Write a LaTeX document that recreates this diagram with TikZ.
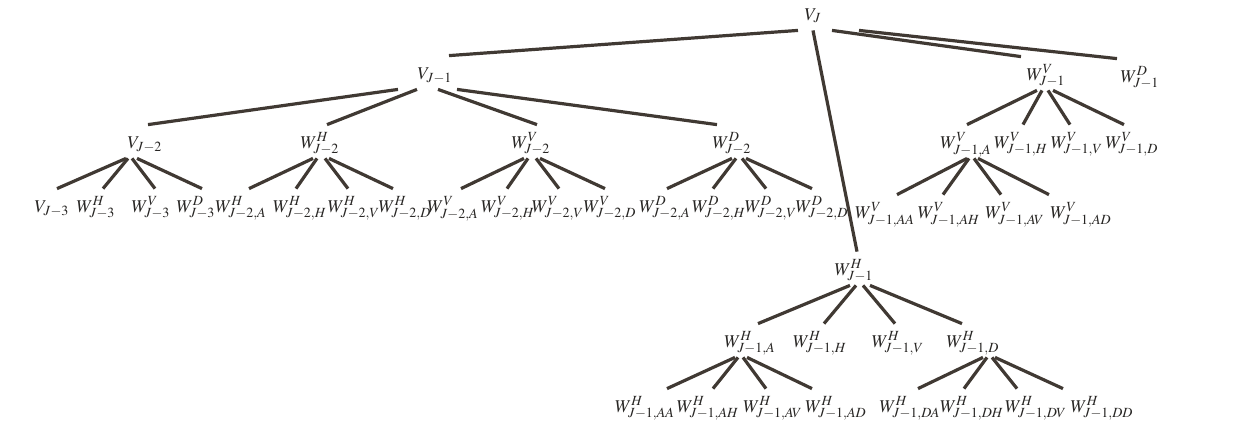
\documentclass[tikz,border=0pt]{standalone}
\usepackage{amsmath}
\usepackage{mathptmx}
\usetikzlibrary{calc}

\definecolor{branchcol}{RGB}{64,57,51}
\definecolor{labelcol}{RGB}{40,38,36}

\begin{document}
\begin{tikzpicture}[x=0.5pt,y=-0.5pt,
   lbl/.style={inner sep=0pt,text height=11.5pt,text depth=5pt,anchor=base,
      text=labelcol,font=\fontsize{9}{11}\selectfont},
   branch/.style={draw=branchcol,line width=1.6pt}]

\useasboundingbox (0,0) rectangle (1239,447);

\node[lbl] (VJ)    at ( 813, 20) {$V_J$};

\node[lbl] (VJm1)  at ( 435, 79) {$V_{J-1}$};
\node[lbl] (WVJm1) at (1046, 80) {$W^V_{J-1}$};
\node[lbl] (WDJm1) at (1140, 82) {$W^D_{J-1}$};
\node[lbl] (WHJm1) at ( 854,275) {$W^H_{J-1}$};

\node[lbl] (VJm2)  at ( 145,148) {$V_{J-2}$};
\node[lbl] (WHJm2) at ( 320,148) {$W^H_{J-2}$};
\node[lbl] (WVJm2) at ( 531,148) {$W^V_{J-2}$};
\node[lbl] (WDJm2) at ( 732,148) {$W^D_{J-2}$};

\node[lbl] (VJm3)   at (  52,212) {$V_{J-3}$};
\node[lbl] (WHJm3)  at (  96,212) {$W^H_{J-3}$};
\node[lbl] (WVJm3)  at ( 151,212) {$W^V_{J-3}$};
\node[lbl] (WDJm3)  at ( 196,212) {$W^D_{J-3}$};
\node[lbl] (WHJm2A) at ( 241,212) {$W^H_{J-2,A}$};
\node[lbl] (WHJm2H) at ( 300,212) {$W^H_{J-2,H}$};
\node[lbl] (WHJm2V) at ( 354,212) {$W^H_{J-2,V}$};
\node[lbl] (WHJm2D) at ( 405,212) {$W^H_{J-2,D}$};
\node[lbl] (WVJm2A) at ( 453,212) {$W^V_{J-2,A}$};
\node[lbl] (WVJm2H) at ( 508,212) {$W^V_{J-2,H}$};
\node[lbl] (WVJm2V) at ( 558,212) {$W^V_{J-2,V}$};
\node[lbl] (WVJm2D) at ( 610,212) {$W^V_{J-2,D}$};
\node[lbl] (WDJm2A) at ( 665,212) {$W^D_{J-2,A}$};
\node[lbl] (WDJm2H) at ( 719,212) {$W^D_{J-2,H}$};
\node[lbl] (WDJm2V) at ( 771,212) {$W^D_{J-2,V}$};
\node[lbl] (WDJm2D) at ( 822,212) {$W^D_{J-2,D}$};

\node[lbl] (WVJm1A) at ( 966,148) {$W^V_{J-1,A}$};
\node[lbl] (WVJm1H) at (1021,148) {$W^V_{J-1,H}$};
\node[lbl] (WVJm1V) at (1077,148) {$W^V_{J-1,V}$};
\node[lbl] (WVJm1D) at (1132,148) {$W^V_{J-1,D}$};

\node[lbl] (WVJm1AA) at ( 885,218) {$W^V_{J-1,AA}$};
\node[lbl] (WVJm1AH) at ( 949,218) {$W^V_{J-1,AH}$};
\node[lbl] (WVJm1AV) at (1015,218) {$W^V_{J-1,AV}$};
\node[lbl] (WVJm1AD) at (1081,218) {$W^V_{J-1,AD}$};

\node[lbl] (WHJm1A) at ( 750,347) {$W^H_{J-1,A}$};
\node[lbl] (WHJm1H) at ( 820,347) {$W^H_{J-1,H}$};
\node[lbl] (WHJm1V) at ( 898,347) {$W^H_{J-1,V}$};
\node[lbl] (WHJm1D) at ( 973,347) {$W^H_{J-1,D}$};

\node[lbl] (WHJm1AA) at ( 645,412) {$W^H_{J-1,AA}$};
\node[lbl] (WHJm1AH) at ( 708,412) {$W^H_{J-1,AH}$};
\node[lbl] (WHJm1AV) at ( 773,412) {$W^H_{J-1,AV}$};
\node[lbl] (WHJm1AD) at ( 836,412) {$W^H_{J-1,AD}$};
\node[lbl] (WHJm1DA) at ( 910,412) {$W^H_{J-1,DA}$};
\node[lbl] (WHJm1DH) at ( 972,412) {$W^H_{J-1,DH}$};
\node[lbl] (WHJm1DV) at (1036,412) {$W^H_{J-1,DV}$};
\node[lbl] (WHJm1DD) at (1102,412) {$W^H_{J-1,DD}$};

\foreach \c/\a/\b in {VJm1/-15/14,WHJm1/0/3,WVJm1/19/-25,WDJm1/46/-23}
   {\draw[branch] ($(VJ.south)+(\a,0)$) -- ($(\c.north)+(\b,0)$);}
\foreach \c/\a/\b in {VJm2/-37/3,WHJm2/-18/7,WVJm2/3/6,WDJm2/22/-15}
   {\draw[branch] ($(VJm1.south)+(\a,0)$) -- ($(\c.north)+(\b,0)$);}

\foreach \c/\a/\b in {VJm3/-19/5,WHJm3/-17/7,WVJm3/-13/4,WDJm3/-8/6}
   {\draw[branch] ($(VJm2.south)+(\a,0)$) -- ($(\c.north)+(\b,0)$);}
\foreach \c/\a/\b in {WHJm2A/-7/8,WHJm2H/-3/-4,WHJm2V/5/-6,WHJm2D/9/-12}
   {\draw[branch] ($(WHJm2.south)+(\a,0)$) -- ($(\c.north)+(\b,0)$);}
\foreach \c/\a/\b in {WVJm2A/-7/8,WVJm2H/-3/-1,WVJm2V/5/1,WVJm2D/9/-5}
   {\draw[branch] ($(WVJm2.south)+(\a,0)$) -- ($(\c.north)+(\b,0)$);}
\foreach \c/\a/\b in {WDJm2A/0/2,WDJm2H/4/-6,WDJm2V/10/-5,WDJm2D/14/-10}
   {\draw[branch] ($(WDJm2.south)+(\a,0)$) -- ($(\c.north)+(\b,0)$);}

\foreach \c/\a/\b in {WVJm1A/-9/1,WVJm1H/-4/2,WVJm1V/2/-7,WVJm1D/7/-8}
   {\draw[branch] ($(WVJm1.south)+(\a,0)$) -- ($(\c.north)+(\b,0)$);}
\foreach \c/\a/\b in {WVJm1AA/1/12,WVJm1AH/3/-6,WVJm1AV/8/-14,WVJm1AD/12/-32}
   {\draw[branch] ($(WVJm1A.south)+(\a,0)$) -- ($(\c.north)+(\b,0)$);}

\foreach \c/\a/\b in {WHJm1A/-4/8,WHJm1H/2/4,WHJm1V/9/-3,WHJm1D/16/-11}
   {\draw[branch] ($(WHJm1.south)+(\a,0)$) -- ($(\c.north)+(\b,0)$);}
\foreach \c/\a/\b in {WHJm1AA/-15/22,WHJm1AH/-12/5,WHJm1AV/-7/-7,WHJm1AD/-3/-24}
   {\draw[branch] ($(WHJm1A.south)+(\a,0)$) -- ($(\c.north)+(\b,0)$);}
\foreach \c/\a/\b in {WHJm1DA/10/8,WHJm1DH/14/-8,WHJm1DV/19/-19,WHJm1DD/22/-39}
   {\draw[branch] ($(WHJm1D.south)+(\a,0)$) -- ($(\c.north)+(\b,0)$);}

\end{tikzpicture}
\end{document}
